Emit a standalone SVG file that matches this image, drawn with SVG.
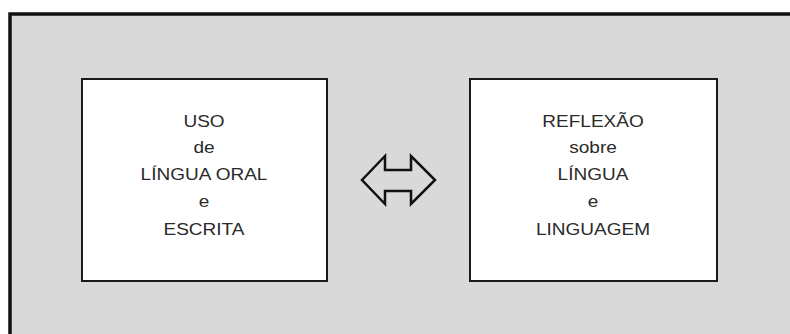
<svg xmlns="http://www.w3.org/2000/svg" width="790" height="334" viewBox="0 0 790 334">
<style>
.box{fill:#ffffff;stroke:#1a1a1a;stroke-width:2}
.t{font-family:"Liberation Sans",Arial,sans-serif;font-size:17px;fill:#2a2a2a;text-anchor:middle}
</style>
<rect x="0" y="0" width="790" height="334" fill="#ffffff"/>
<rect id="frame" x="10" y="14" width="800" height="340" fill="#d9d9d9" stroke="#111" stroke-width="3.5"/>
<g id="uso">
<rect class="box" x="82" y="79" width="245" height="202"/>
<g transform="translate(204,0) scale(1.12,1)">
<text class="t" x="0" y="127">USO</text>
<text class="t" x="0" y="153">de</text>
<text class="t" x="0" y="180">LÍNGUA ORAL</text>
<text class="t" x="0" y="207">e</text>
<text class="t" x="0" y="235">ESCRITA</text>
</g>
</g>
<g id="reflexao">
<rect class="box" x="470" y="79" width="247" height="202"/>
<g transform="translate(593,0) scale(1.12,1)">
<text class="t" x="0" y="127">REFLEXÃO</text>
<text class="t" x="0" y="153">sobre</text>
<text class="t" x="0" y="180">LÍNGUA</text>
<text class="t" x="0" y="207">e</text>
<text class="t" x="0" y="235">LINGUAGEM</text>
</g>
</g>
<g id="connectors">
<polygon points="362,180 385,156 385,170 411,170 411,156 435,180 411,204 411,191 385,191 385,204" fill="#d9d9d9" stroke="#111" stroke-width="2.5" stroke-linejoin="miter"/>
</g>
</svg>
